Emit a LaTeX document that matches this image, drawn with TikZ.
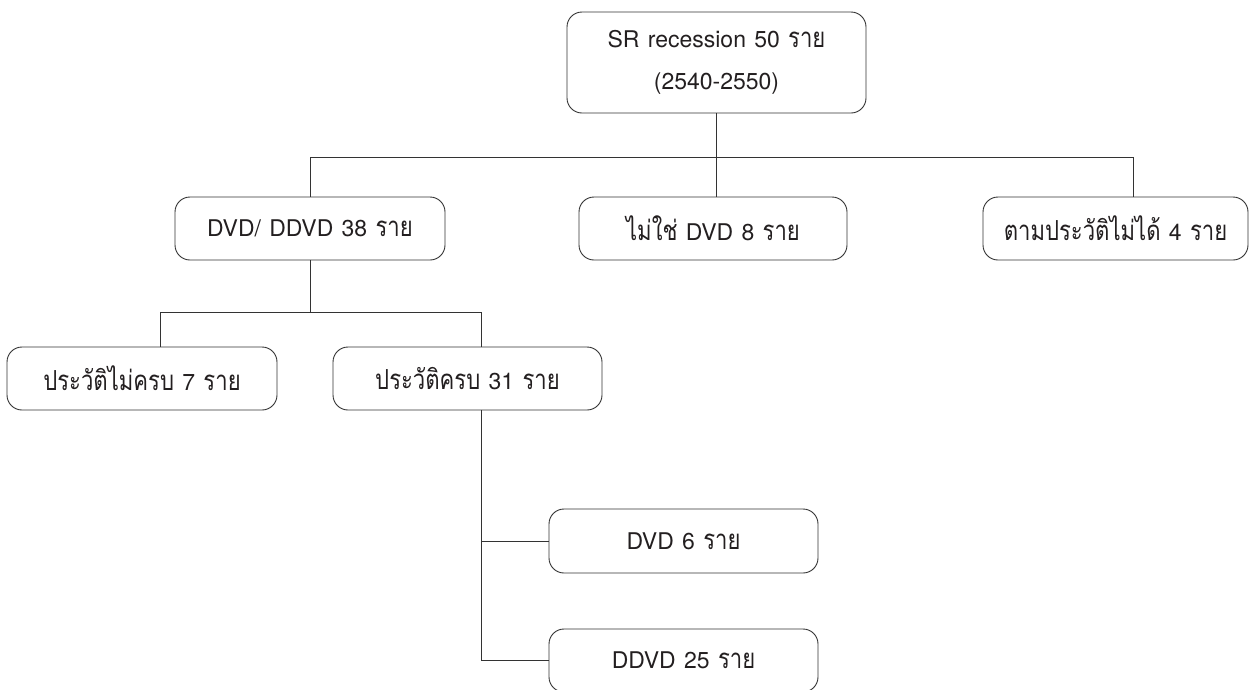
\documentclass[tikz,border=0pt]{standalone}
\usepackage{fontspec}
\setmainfont{TeX Gyre Heros}[WordSpace=1.3]
\newfontfamily\thaifont[Script=Thai,Scale=1.2,FakeStretch=0.8]{Loma}
\newcommand{\tht}[1]{{\thaifont #1}}
\tikzset{
  box/.style={draw=linegray, line width=0.9pt, rounded corners=15pt, rectangle,
    inner sep=0pt, text=textgray, font=\fontsize{23}{42}\selectfont, align=center},
  conn/.style={draw=linegray, line width=0.9pt}
}
\definecolor{linegray}{HTML}{333333}
\definecolor{textgray}{HTML}{231F20}
\begin{document}
\begin{tikzpicture}[x=1pt,y=-1pt]
\useasboundingbox (0,0) rectangle (1253,689);
\node[box, minimum width=299pt, minimum height=101pt] (top) at (716.5,62.5)
  {SR recession 50 \tht{ราย}\\(2540-2550)};
\node[box, minimum width=270pt, minimum height=63pt] (dvd) at (310,228.5)
  {DVD/ DDVD 38 \tht{ราย}};
\node[box, minimum width=268pt, minimum height=63pt] (notdvd) at (713,228.5)
  {\tht{ไม่ใช่} DVD 8 \tht{ราย}};
\node[box, minimum width=265pt, minimum height=63pt] (unk) at (1115.5,228.5)
  {\tht{ตามประวัติไม่ได้} 4 \tht{ราย}};
\node[box, minimum width=270pt, minimum height=63pt] (inc) at (142,378.5)
  {\tht{ประวัติไม่ครบ} 7 \tht{ราย}};
\node[box, minimum width=269pt, minimum height=63pt] (com) at (467.5,378.5)
  {\tht{ประวัติครบ} 31 \tht{ราย}};
\node[box, minimum width=269pt, minimum height=64pt] (dvd6) at (683.5,541)
  {DVD 6 \tht{ราย}};
\node[box, minimum width=269pt, minimum height=63pt] (ddvd) at (683.5,660.5)
  {DDVD 25 \tht{ราย}};
\coordinate (busR) at (1133,157);
\coordinate (j2L) at (160,312);
\coordinate (j2R) at (481,312);
\draw[conn] (top.south) -- (top.south |- notdvd.north);
\draw[conn] (dvd.north) |- (busR) -- (busR |- unk.north);
\draw[conn] (dvd.south) -- (dvd.south |- j2L);
\draw[conn] (j2L |- inc.north) |- (j2R) -- (j2R |- com.north);
\draw[conn] (j2R |- com.south) -- (j2R |- ddvd.west) -- (ddvd.west);
\draw[conn] (j2R |- dvd6.west) -- (dvd6.west);
\end{tikzpicture}
\end{document}
